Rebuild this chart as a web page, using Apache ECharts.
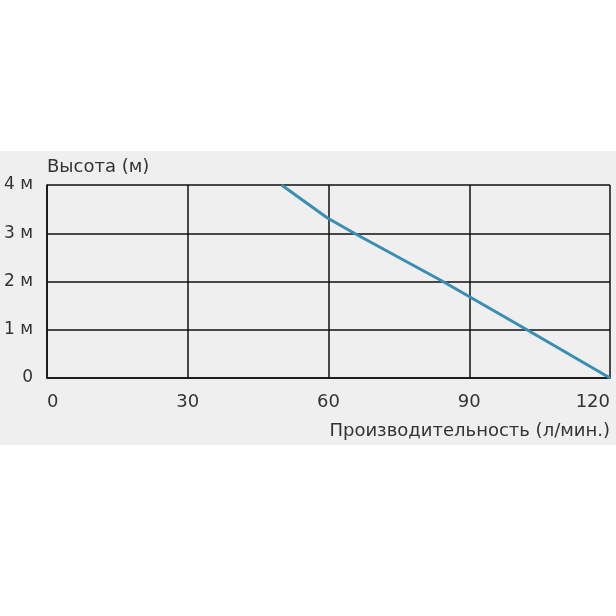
<!DOCTYPE html>
<html>
<head>
<meta charset="utf-8">
<script src="https://cdn.jsdelivr.net/npm/echarts@6/dist/echarts.min.js"></script>
<style>
html,body{margin:0;padding:0;background:#fff;}
#c{width:616px;height:616px;}
</style>
</head>
<body>
<div id="c"></div>
<script>
const flowX = [50, 59.7, 65.5, 84.4, 102.3, 120];
const headY = [4, 3.32, 3, 2, 1, 0];
const xTicks = [0, 30, 60, 90, 120];
const yTickLabels = ['0', '1 м', '2 м', '3 м', '4 м'];
const xName = 'Производительность (л/мин.)';
const yName = 'Высота (м)';

const FONT = 'DejaVu Sans';
const chart = echarts.init(document.getElementById('c'), null, {renderer: 'canvas'});
chart.setOption({
  backgroundColor: '#ffffff',
  animation: false,
  graphic: [{
    type: 'rect', left: 0, top: 151, z: -10,
    shape: {width: 616, height: 294},
    style: {fill: '#eeefee'}
  }],
  grid: {left: 47, right: 6, top: 185, bottom: 238, containLabel: false},
  xAxis: {
    type: 'value', min: 0, max: 120, interval: 30,
    axisLine: {show: true, lineStyle: {color: '#111', width: 1.5}},
    axisTick: {show: false},
    splitLine: {show: true, lineStyle: {color: '#111', width: 1.5}},
    axisLabel: {
      margin: 15, color: '#333', fontFamily: FONT, fontSize: 18,
      alignMinLabel: 'left', alignMaxLabel: 'right',
      formatter: v => String(xTicks[xTicks.indexOf(v)])
    },
    name: xName, nameLocation: 'end', nameGap: 0,
    nameTextStyle: {color: '#333', fontFamily: FONT, fontSize: 18, align: 'right', verticalAlign: 'top', padding: [44, 0, 0, 0]}
  },
  yAxis: {
    type: 'value', min: 0, max: 4, interval: 1,
    axisLine: {show: true, lineStyle: {color: '#111', width: 1.5}},
    axisTick: {show: false},
    splitLine: {show: true, lineStyle: {color: '#111', width: 1.5}},
    axisLabel: {
      margin: 14, color: '#333', fontFamily: FONT, fontSize: 17,
      formatter: v => yTickLabels[v]
    },
    name: yName, nameLocation: 'end', nameGap: 9,
    nameTextStyle: {color: '#333', fontFamily: FONT, fontSize: 18, align: 'left', verticalAlign: 'bottom'}
  },
  series: [{
    type: 'line',
    data: flowX.map((x, i) => [x, headY[i]]),
    showSymbol: false,
    smooth: false,
    lineStyle: {color: '#3a8eb2', width: 3},
    itemStyle: {color: '#3a8eb2'}
  }]
});
</script>
</body>
</html>
